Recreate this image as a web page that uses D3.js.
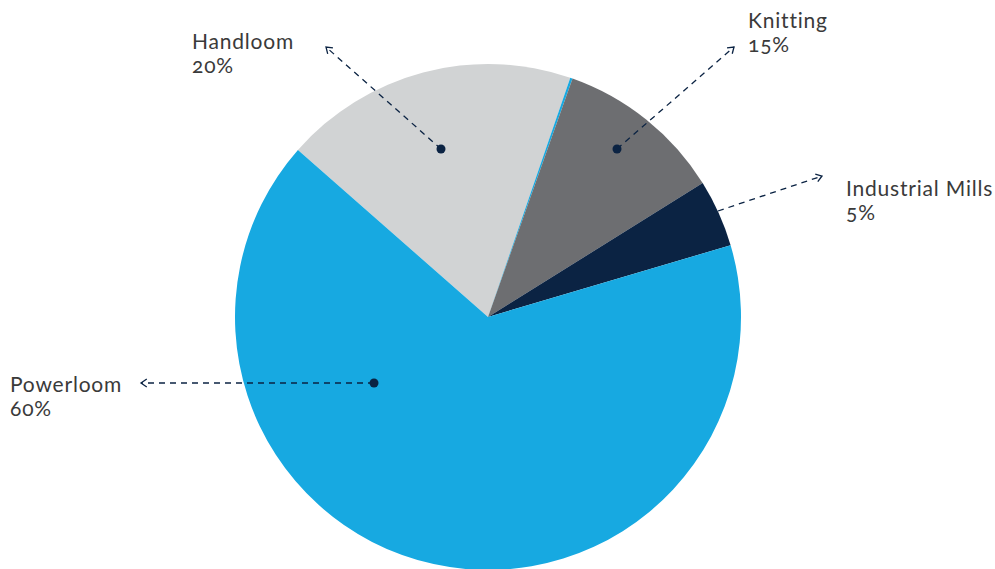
<!DOCTYPE html>
<html><head><meta charset="utf-8">
<script src="https://cdn.jsdelivr.net/npm/d3@7"></script>
<style>
html,body{margin:0;padding:0;background:#fff;}
text{font-family:"Lato","Noto Sans",sans-serif;font-weight:400;letter-spacing:0.8px;font-feature-settings:"onum";}
</style></head>
<body><svg id="c" width="995" height="569"></svg>
<script>
// Slice order clockwise starting at the Powerloom/Handloom boundary
const categories = ["Handloom", "Powerloom (sliver)", "Knitting", "Industrial Mills", "Powerloom"];
const values = [18.8, 0.15, 10.7, 4.3, 66.05];          // drawn shares (%)
const colors = ["#d1d3d4", "#17a9e1", "#6d6e71", "#0b2343", "#17a9e1"];
const labelNames = ["Handloom", "Knitting", "Industrial Mills", "Powerloom"];
const labelPcts = ["20%", "15%", "5%", "60%"];

const svg = d3.select("#c");
const cx = 488, cy = 317, R = 253;
const g = svg.append("g").attr("transform", `translate(${cx},${cy})`);
const start = -48.7 * Math.PI / 180;
const pie = d3.pie().sort(null).value(d => d).startAngle(start).endAngle(start + 2 * Math.PI);
const arc = d3.arc().innerRadius(0).outerRadius(R);
g.selectAll("path.slice").data(pie(values)).join("path")
  .attr("class", "slice").attr("d", arc).attr("fill", (d, i) => colors[i]);

// annotations: dot (or start) -> arrow tip, label position
const ann = [
  {from: [441, 149], to: [326, 47], dot: true, tx: 192, ty: 49},
  {from: [617, 149], to: [734, 47], dot: true, tx: 748, ty: 28},
  {from: [718, 211], to: [822, 176], dot: false, tx: 846, ty: 196},
  {from: [374, 383], to: [141, 383], dot: true, tx: 10, ty: 392}
];
const navy = "#0b2343";
ann.forEach((a, i) => {
  svg.append("line").attr("x1", a.from[0]).attr("y1", a.from[1]).attr("x2", a.to[0]).attr("y2", a.to[1])
    .attr("stroke", navy).attr("stroke-width", 1.3).attr("stroke-dasharray", "6,5");
  const ang = Math.atan2(a.to[1] - a.from[1], a.to[0] - a.from[0]);
  const L = 7, w = 0.6;
  const p1 = [a.to[0] - L * Math.cos(ang - w), a.to[1] - L * Math.sin(ang - w)];
  const p2 = [a.to[0] - L * Math.cos(ang + w), a.to[1] - L * Math.sin(ang + w)];
  svg.append("path").attr("d", `M${p1}L${a.to}L${p2}`).attr("fill", "none")
    .attr("stroke", navy).attr("stroke-width", 1.3);
  if (a.dot) svg.append("circle").attr("cx", a.from[0]).attr("cy", a.from[1]).attr("r", 4.5).attr("fill", navy);
  svg.append("text").attr("x", a.tx).attr("y", a.ty).attr("fill", "#3a3a3a").attr("font-size", 21)
    .text(labelNames[i]);
  svg.append("text").attr("x", a.tx).attr("y", a.ty + 24).attr("fill", "#3a3a3a").attr("font-size", 21)
    .text(labelPcts[i]);
});
</script></body></html>
